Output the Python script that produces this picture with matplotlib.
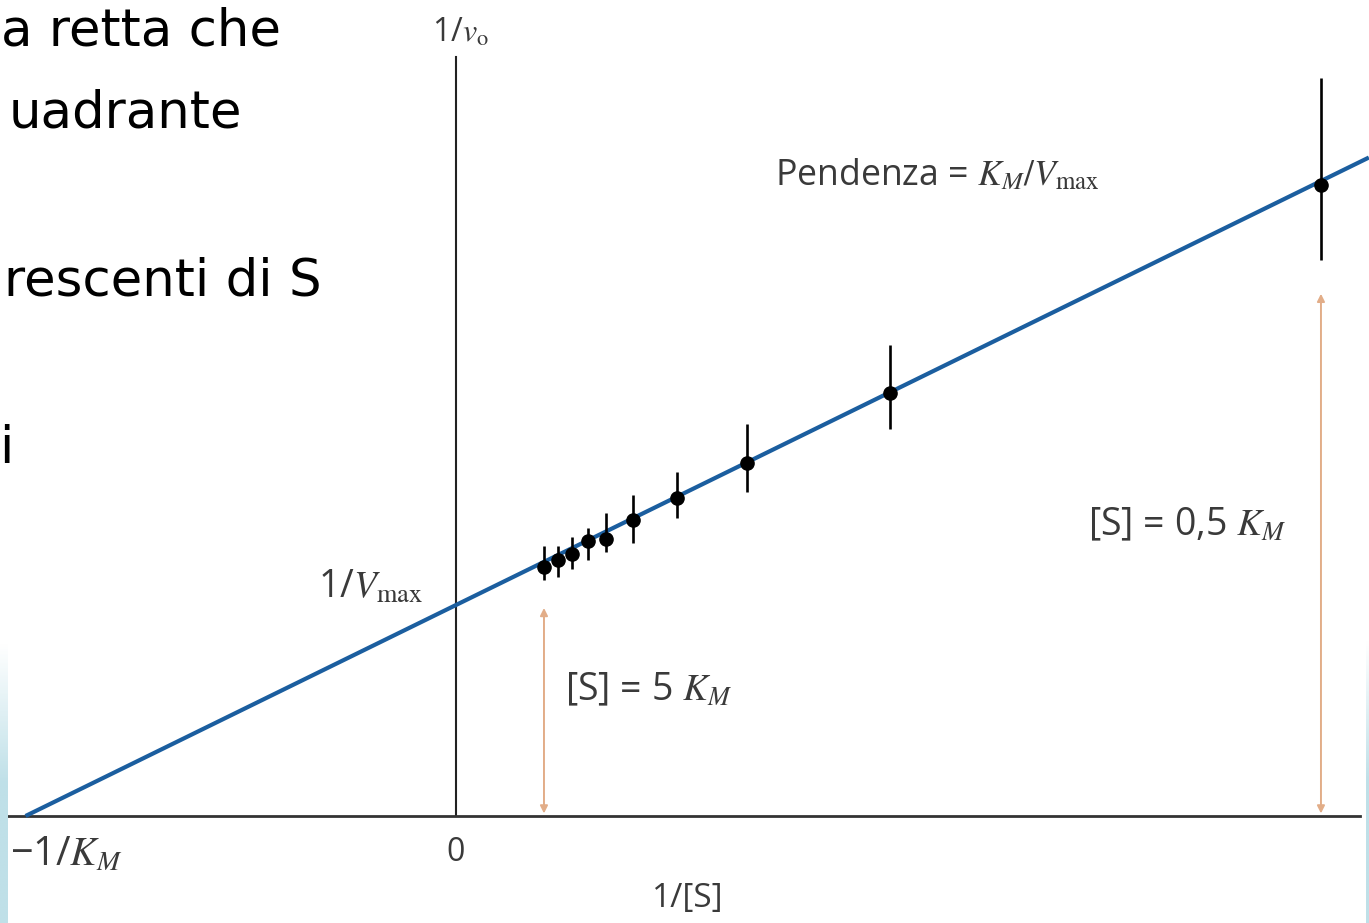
import numpy as np
import matplotlib.pyplot as plt
from matplotlib.patches import FancyArrowPatch
from matplotlib.colors import LinearSegmentedColormap

plt.rcParams["mathtext.fontset"] = "stix"
plt.rcParams["font.family"] = ["Open Sans", "DejaVu Sans"]

# Lineweaver-Burk data (x = 1/[S], y = 1/v0, in units of 1/KM and 1/Vmax)
inv_s = [0.2075, 0.2406, 0.2736, 0.3113, 0.3538, 0.4175, 0.5212, 0.6863, 1.0236, 2.040]
inv_v = [1.180, 1.213, 1.242, 1.303, 1.313, 1.403, 1.507, 1.673, 2.005, 2.991]
err_up = [0.098, 0.066, 0.081, 0.060, 0.122, 0.118, 0.122, 0.185, 0.227, 0.507]
err_down = [0.063, 0.079, 0.071, 0.090, 0.060, 0.108, 0.095, 0.137, 0.171, 0.355]

intercept_y = 1.0      # 1/Vmax
slope = 0.985          # KM/Vmax
line_x_end = 2.153

# slide text partly visible on the left
slide_lines = ["a retta che", "uadrante", "rescenti di S", "i"]
slide_x = [1, 9, 4, -1]
slide_base = [45, 128, 295, 463]

W, H = 1369, 923
fig = plt.figure(figsize=(W / 100, H / 100), dpi=100)
fig.patch.set_facecolor("white")

ax = fig.add_axes([0, 0, 1, 1])
ax.set_xlim(-456 / 424, 913 / 424)
ax.set_ylim(-107 / 211, 816 / 211)
ax.set_facecolor("none")

# axes through the origin
for side in ["top", "right"]:
    ax.spines[side].set_visible(False)
ax.spines["left"].set_position(("data", 0))
ax.spines["bottom"].set_position(("data", 0))
ax.spines["left"].set_bounds(0, 759 / 211)
ax.spines["bottom"].set_bounds(-448 / 424, 904 / 424)
ax.spines["left"].set_linewidth(1.5)
ax.spines["bottom"].set_linewidth(2.0)
ax.spines["left"].set_color("#222222")
ax.spines["bottom"].set_color("#333333")
ax.set_xticks([])
ax.set_yticks([])

# fitted line
x_int = -intercept_y / slope
xs = np.array([x_int, line_x_end])
ax.plot(xs, intercept_y + slope * xs, color="#1b5e9f", lw=3.0, zorder=3,
        solid_capstyle="butt")

ax.errorbar(inv_s, inv_v, yerr=[err_down, err_up], fmt="o", color="black",
            ms=9.5, elinewidth=1.9, capsize=0, zorder=4)

# [S] arrows
arrow_col = "#e2ad88"
for xa, ytop in [(inv_s[0], 0.986), (inv_s[-1], 2.475)]:
    ax.add_patch(FancyArrowPatch((xa, 0.012), (xa, ytop), arrowstyle="<|-|>",
                                 mutation_scale=11, color=arrow_col, lw=1.4,
                                 shrinkA=0, shrinkB=0, zorder=2))

tc = "#3a3a3a"
ax.text(0.0094, 3.711, r"1/$v_{\mathrm{o}}$", ha="center", va="center",
        fontsize=23, color=tc)
ax.text(-0.078, 1.081, r"1/$V_{\mathrm{max}}$", ha="right", va="center",
        fontsize=27, color=tc)
ax.text(0, -0.171, "0", ha="center", va="center", fontsize=23, color=tc)
ax.text(-1.052, -0.185, r"−1/$K_M$", ha="left", va="center", fontsize=28.5,
        color=tc)
ax.text(0.547, -0.389, "1/[S]", ha="center", va="center", fontsize=24,
        color=tc)
ax.text(0.752, 3.033, r"Pendenza = $K_M/V_{\mathrm{max}}$", ha="left",
        va="center", fontsize=25.7, color=tc)
ax.text(0.257, 0.597, r"[S] = 5 $K_M$", ha="left", va="center", fontsize=27,
        color=tc)
ax.text(1.4906, 1.379, r"[S] = 0,5 $K_M$", ha="left", va="center",
        fontsize=27, color=tc)

for txt, px, pb in zip(slide_lines, slide_x, slide_base):
    fig.text(px / W, 1 - pb / H, txt, ha="left", va="baseline", fontsize=37,
             color="black", family="DejaVu Sans")

# light blue slide border strips
grad = np.linspace(0, 1, 100).reshape(-1, 1)
strip_cmap = LinearSegmentedColormap.from_list(
    "strip", ["#bfe0e8", "#bfe0e8", "#ffffff"])
for left, width, top in [(0, 8, 643), (1366, 3, 640)]:
    sax = fig.add_axes([left / W, 0, width / W, (H - top) / H])
    sax.imshow(grad, aspect="auto", cmap=strip_cmap, origin="lower")
    sax.set_axis_off()

fig.savefig("out.png", dpi=100)
